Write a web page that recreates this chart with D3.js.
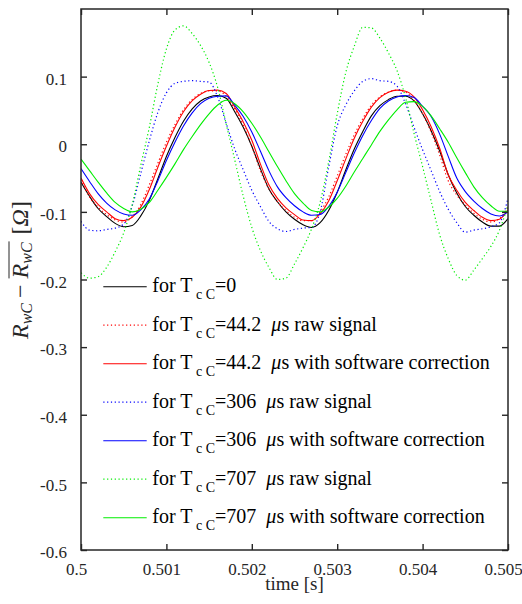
<!DOCTYPE html>
<html>
<head>
<meta charset="utf-8">
<script src="https://cdn.jsdelivr.net/npm/d3@7"></script>
<style>
  body { margin: 0; background: #fff; }
  svg text { font-family: "Liberation Serif", "DejaVu Serif", "Times New Roman", Times, serif; }
</style>
</head>
<body>
<div id="chart"></div>
<script>
// sample times [s]
const time = [0.5000, 0.5001, 0.5002, 0.5003, 0.5004, 0.5005, 0.5006, 0.5007, 0.5008, 0.5009,
  0.5010, 0.5011, 0.5012, 0.5013, 0.5014, 0.5015, 0.5016, 0.5017, 0.5018, 0.5019,
  0.5020, 0.5021, 0.5022, 0.5023, 0.5024, 0.5025, 0.5026, 0.5027, 0.5028, 0.5029,
  0.5030, 0.5031, 0.5032, 0.5033, 0.5034, 0.5035, 0.5036, 0.5037, 0.5038, 0.5039,
  0.5040, 0.5041, 0.5042, 0.5043, 0.5044, 0.5045, 0.5046, 0.5047, 0.5048, 0.5049, 0.5050];

// R_wC - mean(R_wC) [Ohm]
const tc0 = [-0.056, -0.077, -0.095, -0.107, -0.117, -0.122, -0.120, -0.106, -0.083, -0.051,
  -0.018, 0.010, 0.034, 0.052, 0.064, 0.070, 0.072, 0.068, 0.048, 0.025,
  -0.003, -0.036, -0.066, -0.085, -0.100, -0.111, -0.119, -0.123, -0.116, -0.098,
  -0.071, -0.038, -0.007, 0.019, 0.042, 0.057, 0.066, 0.071, 0.071, 0.064,
  0.045, 0.020, -0.010, -0.045, -0.072, -0.092, -0.105, -0.115, -0.121, -0.121, -0.110];

const tc44Raw = [-0.052, -0.078, -0.093, -0.104, -0.112, -0.115, -0.107, -0.089, -0.060, -0.028,
  0.003, 0.029, 0.051, 0.066, 0.075, 0.079, 0.079, 0.071, 0.052, 0.028,
  -0.003, -0.039, -0.066, -0.085, -0.098, -0.108, -0.113, -0.113, -0.100, -0.078,
  -0.047, -0.015, 0.014, 0.038, 0.058, 0.070, 0.077, 0.080, 0.077, 0.065,
  0.045, 0.018, -0.016, -0.054, -0.075, -0.090, -0.102, -0.111, -0.115, -0.110, -0.093];

const tc44Corr = [-0.050, -0.073, -0.089, -0.100, -0.110, -0.113, -0.108, -0.093, -0.067, -0.034,
  -0.003, 0.025, 0.048, 0.064, 0.074, 0.0795, 0.080, 0.075, 0.055, 0.033,
  0.006, -0.029, -0.060, -0.080, -0.094, -0.104, -0.112, -0.113, -0.103, -0.084,
  -0.054, -0.022, 0.009, 0.034, 0.055, 0.069, 0.077, 0.080, 0.0785, 0.070,
  0.051, 0.026, -0.006, -0.045, -0.068, -0.086, -0.098, -0.108, -0.113, -0.111, -0.097];

const tc306Raw = [-0.114, -0.127, -0.128, -0.126, -0.124, -0.118, -0.091, -0.043, 0.005, 0.047,
  0.076, 0.090, 0.093, 0.094, 0.093, 0.092, 0.070, 0.031, -0.007, -0.038,
  -0.068, -0.092, -0.114, -0.125, -0.129, -0.126, -0.124, -0.123, -0.100, -0.034,
  0.027, 0.058, 0.079, 0.093, 0.097, 0.094, 0.093, 0.086, 0.060, 0.025,
  -0.008, -0.039, -0.070, -0.096, -0.116, -0.130, -0.127, -0.125, -0.122, -0.116, -0.080];

const tc306Corr = [-0.036, -0.055, -0.073, -0.087, -0.097, -0.103, -0.105, -0.097, -0.081, -0.054,
  -0.024, 0.003, 0.027, 0.046, 0.060, 0.068, 0.071, 0.0715, 0.058, 0.041,
  0.018, -0.010, -0.039, -0.063, -0.079, -0.091, -0.100, -0.105, -0.104, -0.092,
  -0.071, -0.042, -0.013, 0.013, 0.035, 0.053, 0.064, 0.070, 0.072, 0.069,
  0.056, 0.041, 0.015, -0.018, -0.050, -0.070, -0.084, -0.095, -0.103, -0.106, -0.100];

const tc707Raw = [-0.190, -0.198, -0.196, -0.182, -0.159, -0.131, -0.089, -0.031, 0.025, 0.089,
  0.141, 0.169, 0.175, 0.164, 0.146, 0.121, 0.084, 0.030, -0.023, -0.077,
  -0.123, -0.157, -0.182, -0.200, -0.198, -0.177, -0.153, -0.125, -0.086, -0.026,
  0.045, 0.106, 0.145, 0.173, 0.172, 0.157, 0.135, 0.109, 0.069, 0.016,
  -0.033, -0.084, -0.134, -0.169, -0.194, -0.201, -0.186, -0.169, -0.151, -0.127, -0.090];

const tc707Corr = [-0.022, -0.039, -0.056, -0.072, -0.086, -0.095, -0.100, -0.096, -0.086, -0.068,
  -0.049, -0.029, -0.008, 0.011, 0.029, 0.045, 0.058, 0.065, 0.060, 0.048,
  0.031, 0.011, -0.011, -0.033, -0.054, -0.073, -0.087, -0.098, -0.100, -0.093,
  -0.080, -0.062, -0.041, -0.021, -0.001, 0.019, 0.036, 0.051, 0.062, 0.063,
  0.056, 0.042, 0.023, 0.003, -0.020, -0.042, -0.063, -0.079, -0.091, -0.099, -0.099];

const xTicks = [0.5, 0.501, 0.502, 0.503, 0.504, 0.505];
const yTicks = [-0.6, -0.5, -0.4, -0.3, -0.2, -0.1, 0, 0.1];

// legend pieces: T_cC value and suffix
const legendValues = ['0', '44.2', '44.2', '306', '306', '707', '707'];
const legendSuffix = ['', 'raw signal', 'with software correction', 'raw signal',
  'with software correction', 'raw signal', 'with software correction'];

const seriesValues = [tc0, tc44Raw, tc44Corr, tc306Raw, tc306Corr, tc707Raw, tc707Corr];
const seriesColor = ['#000000', '#ff0000', '#ff0000', '#0000ff', '#0000ff', '#00ee00', '#00ee00'];
const seriesDotted = [false, true, false, true, false, true, false];

const width = 522, height = 604;
const plot = {left: 81, right: 508, top: 9, bottom: 550};
const axisColor = '#262626';
const serif = '"Liberation Serif", "DejaVu Serif", "Times New Roman", Times, serif';

const svg = d3.select('#chart').append('svg')
  .attr('width', width)
  .attr('height', height)
  .attr('font-family', serif)
  .style('background', '#fff');

const x = d3.scaleLinear().domain([0.5, 0.505]).range([plot.left, plot.right]);
const y = d3.scaleLinear().domain([-0.6, 0.2]).range([plot.bottom, plot.top]);

svg.append('clipPath').attr('id', 'clip')
  .append('rect')
  .attr('x', plot.left).attr('y', plot.top)
  .attr('width', plot.right - plot.left).attr('height', plot.bottom - plot.top);

// curves
const line = d3.line()
  .x((d, i) => x(time[i]))
  .y(d => y(d))
  .curve(d3.curveMonotoneX);

const curves = svg.append('g').attr('clip-path', 'url(#clip)');
seriesValues.forEach((vals, i) => {
  curves.append('path')
    .datum(vals)
    .attr('d', line)
    .attr('fill', 'none')
    .attr('stroke', seriesColor[i])
    .attr('stroke-width', seriesDotted[i] ? 1.2 : 1.1)
    .attr('stroke-dasharray', seriesDotted[i] ? '1.2,2.6' : null);
});

// axes, ticks pointing inward on all four sides
const fmtY = d => d === 0 ? '0' : d.toFixed(1);
const axes = [
  svg.append('g').attr('transform', `translate(0,${plot.bottom})`)
    .call(d3.axisBottom(x).tickValues(xTicks).tickSize(-6).tickPadding(13).tickFormat(d => String(d))),
  svg.append('g').attr('transform', `translate(0,${plot.top})`)
    .call(d3.axisTop(x).tickValues(xTicks).tickSize(-6).tickFormat('')),
  svg.append('g').attr('transform', `translate(${plot.left},0)`)
    .call(d3.axisLeft(y).tickValues(yTicks).tickSize(-6).tickPadding(14).tickFormat(fmtY)),
  svg.append('g').attr('transform', `translate(${plot.right},0)`)
    .call(d3.axisRight(y).tickValues(yTicks).tickSize(-6).tickFormat(''))
];
axes.forEach(g => {
  g.attr('font-family', serif).attr('font-size', 17);
  g.select('.domain').remove();
  g.selectAll('line').attr('stroke', axisColor).attr('stroke-width', 1.4);
  g.selectAll('text').attr('fill', axisColor);
});
axes[0].selectAll('text').attr('dx', -5);
axes[2].selectAll('text').attr('dy', '0.45em');

svg.append('rect')
  .attr('x', plot.left).attr('y', plot.top)
  .attr('width', plot.right - plot.left).attr('height', plot.bottom - plot.top)
  .attr('fill', 'none')
  .attr('stroke', axisColor)
  .attr('stroke-width', 1.5);

// x label
svg.append('text')
  .attr('x', (plot.left + plot.right) / 2)
  .attr('y', 590)
  .attr('text-anchor', 'middle')
  .attr('fill', axisColor)
  .attr('font-size', 19)
  .text('time [s]');

// y label: R_wC - overline(R_wC) [Ω]
const ylab = svg.append('g')
  .attr('transform', `translate(28,270) rotate(-90)`);
const yText = ylab.append('text')
  .attr('text-anchor', 'middle')
  .attr('fill', axisColor)
  .attr('font-size', 24);
yText.append('tspan').attr('font-style', 'italic').text('R');
yText.append('tspan').attr('font-style', 'italic').attr('font-size', 16).attr('dy', 4).text('wC');
yText.append('tspan').attr('dy', -4).attr('dx', 5).text('\u2212');
yText.append('tspan').attr('font-style', 'italic').attr('dx', 6).text('R');
yText.append('tspan').attr('font-style', 'italic').attr('font-size', 16).attr('dy', 4).text('wC');
yText.append('tspan').attr('dy', -4).attr('dx', 8).text('[');
yText.append('tspan').attr('font-style', 'italic').text('\u03A9');
yText.append('tspan').text(']');
const tNode = yText.node();
const ox0 = tNode.getStartPositionOfChar(4).x;
const ox1 = tNode.getEndPositionOfChar(6).x;
ylab.append('line')
  .attr('x1', ox0).attr('x2', ox1 + 1)
  .attr('y1', -19).attr('y2', -19)
  .attr('stroke', axisColor)
  .attr('stroke-width', 1);

// legend (no box)
const legendTop = 286.7, legendStep = 38.5;
const legend = svg.append('g');
legendValues.forEach((v, i) => {
  const ly = legendTop + i * legendStep;
  legend.append('line')
    .attr('x1', 103.3).attr('x2', 146.7)
    .attr('y1', ly).attr('y2', ly)
    .attr('stroke', seriesColor[i])
    .attr('stroke-width', seriesDotted[i] ? 1.2 : 1.1)
    .attr('stroke-dasharray', seriesDotted[i] ? '1.2,2.6' : null);
  const t = legend.append('text')
    .attr('x', 152.3).attr('y', ly + 5.5)
    .attr('fill', '#000')
    .attr('font-size', 20)
    .style('white-space', 'pre');
  t.append('tspan').text('for T');
  t.append('tspan').attr('font-size', 14).attr('dy', 7).text(' c C');
  t.append('tspan').attr('dy', -7).text('=' + v);
  if (legendSuffix[i]) {
    t.append('tspan').text('  ');
    t.append('tspan').attr('font-style', 'italic').text('\u03BC');
    t.append('tspan').text('s ' + legendSuffix[i]);
  }
});
</script>
</body>
</html>
